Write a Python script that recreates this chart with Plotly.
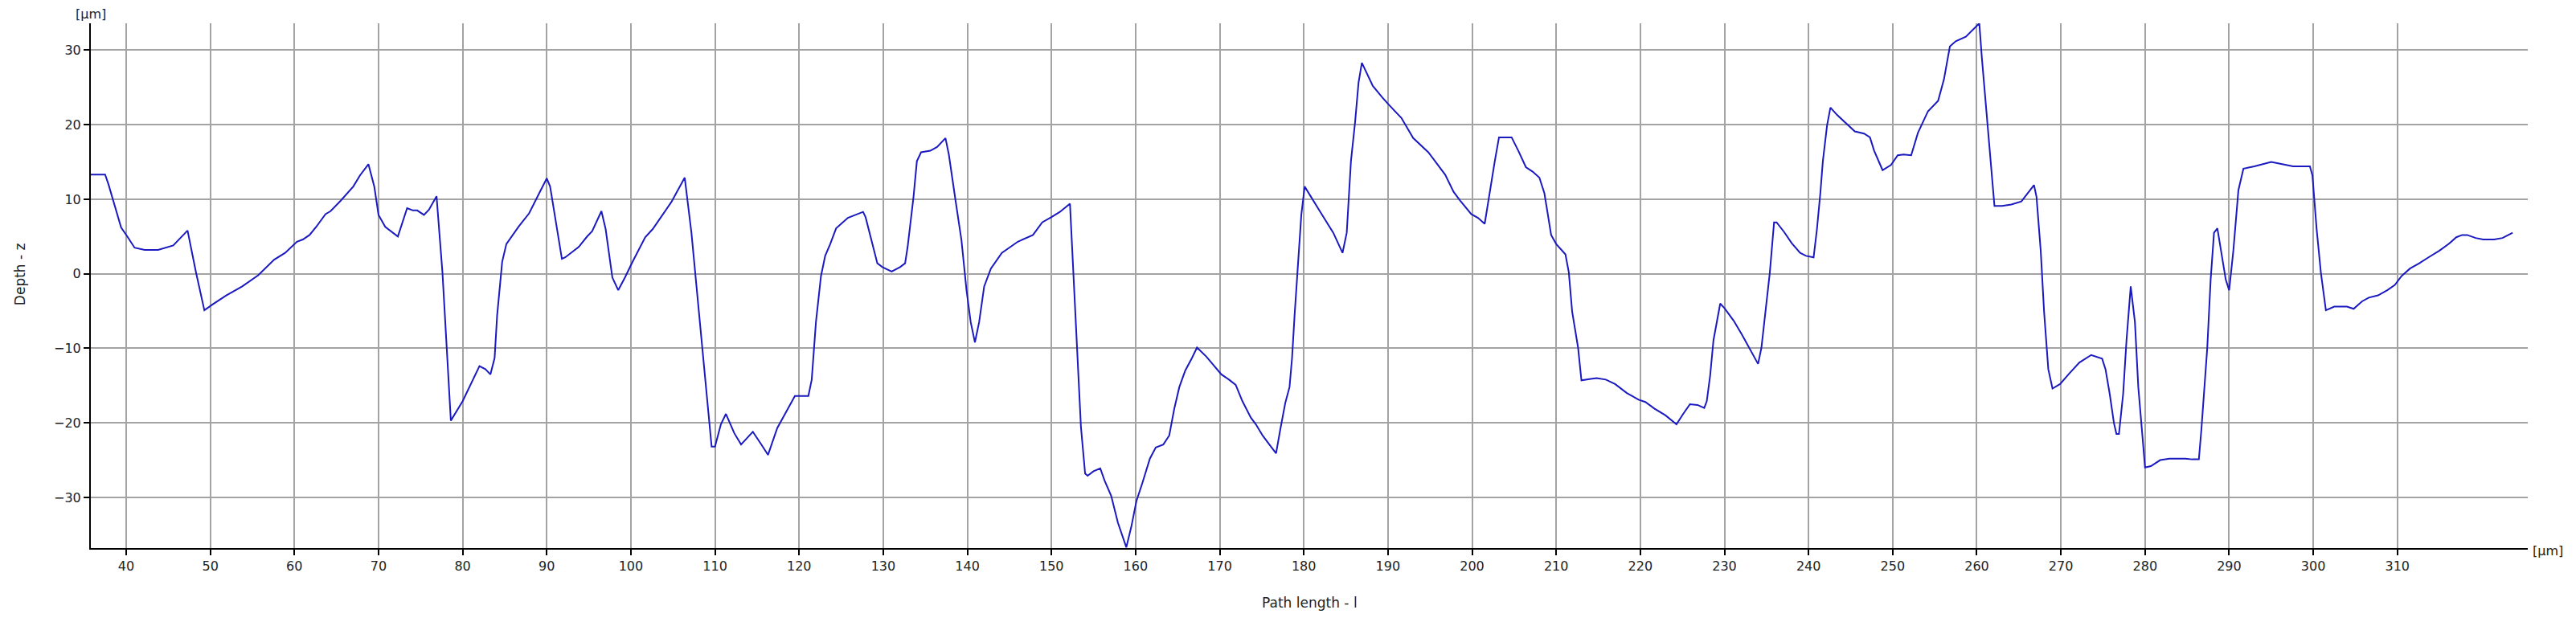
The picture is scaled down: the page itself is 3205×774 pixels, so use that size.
"""
Surface profile plot: depth z along the path length l
"""

import plotly.graph_objects as go

# Path length l [um]
path_length = [
    35.8, 37.5, 37.9, 38.6, 39.4, 40.2, 41.0, 42.2, 43.8, 45.6, 47.3, 48.3, 49.3,
    50.3, 51.9, 53.8, 55.7, 57.6, 58.9, 60.3, 61.0, 61.8, 62.6, 63.7, 64.3, 65.5,
    67.0, 67.8, 68.8, 69.5, 70.0, 70.8, 72.3, 73.4, 74.1, 74.6, 75.4, 76.0, 76.9,
    77.6, 78.1, 78.6, 80.0, 80.9, 82.0, 82.7, 83.3, 83.8, 84.1, 84.7, 85.2, 86.7,
    87.9, 89.1, 90.0, 90.4, 91.1, 91.8, 92.2, 93.2, 93.8, 94.8, 95.4, 96.5, 97.0,
    97.8, 98.5, 99.3, 100.2, 101.7, 102.6, 104.8, 106.4, 107.2, 107.8, 108.5,
    109.3, 109.6, 110.0, 110.7, 111.3, 112.3, 113.1, 114.5, 115.5, 116.3, 117.4,
    118.7, 119.5, 120.3, 121.1, 121.5, 122.0, 122.6, 123.1, 123.7, 124.4, 125.0,
    125.8, 126.7, 127.6, 127.9, 128.5, 129.3, 129.9, 131.0, 132.0, 132.6, 132.9,
    133.6, 134.0, 134.5, 135.6, 136.4, 137.4, 137.8, 138.6, 139.3, 139.9, 140.4,
    140.9, 141.4, 142.0, 142.8, 144.1, 145.1, 146.0, 147.8, 148.9, 150.0, 151.0,
    152.2, 153.0, 153.5, 154.0, 154.3, 155.0, 155.8, 156.3, 157.1, 157.9, 158.9,
    159.5, 160.1, 160.8, 161.7, 162.4, 163.3, 164.0, 164.6, 165.2, 165.9, 166.7,
    167.3, 168.4, 169.3, 170.2, 171.1, 171.9, 172.7, 173.7, 174.3, 175.1, 175.9,
    176.7, 177.2, 177.8, 178.3, 178.6, 178.9, 179.4, 179.7, 180.1, 181.0, 181.9,
    183.5, 184.6, 185.1, 185.6, 186.1, 186.5, 186.9, 187.4, 188.2, 189.3, 190.0,
    191.6, 192.1, 193.0, 194.8, 195.9, 196.8, 197.8, 198.6, 199.9, 200.7, 201.5,
    202.2, 202.7, 203.2, 204.7, 205.5, 206.4, 207.2, 208.0, 208.6, 209.4, 210.0,
    211.1, 211.5, 211.9, 212.6, 213.0, 214.1, 214.8, 215.9, 217.0, 218.4, 219.8,
    220.6, 221.7, 223.0, 224.3, 225.1, 225.9, 226.8, 227.6, 227.9, 228.3, 228.7,
    229.5, 230.0, 231.1, 232.1, 233.0, 234.0, 234.4, 234.9, 235.4, 235.9, 236.2,
    237.1, 238.0, 239.0, 239.7, 240.6, 241.0, 241.4, 241.7, 242.2, 242.6, 243.4,
    244.5, 245.5, 246.6, 247.3, 247.8, 248.8, 249.8, 250.6, 251.3, 252.2, 253.0,
    254.2, 255.4, 256.1, 256.8, 257.5, 258.7, 260.3, 260.6, 261.3, 261.7, 262.1,
    263.0, 264.1, 265.3, 266.8, 267.1, 267.6, 268.0, 268.5, 269.0, 269.9, 270.9,
    272.2, 273.6, 274.9, 275.3, 275.8, 276.3, 276.6, 276.9, 277.4, 277.8, 278.3,
    278.8, 279.2, 279.7, 280.0, 280.7, 281.8, 282.9, 284.8, 285.6, 286.4, 286.7,
    287.4, 287.8, 288.2, 288.6, 289.1, 289.6, 290.0, 290.5, 291.1, 291.7, 293.0,
    294.1, 295.0, 296.3, 297.6, 299.6, 299.9, 300.4, 300.9, 301.5, 302.5, 304.0,
    304.8, 305.8, 306.6, 307.7, 308.8, 309.7, 310.5, 311.5, 312.6, 313.7, 315.0,
    316.1, 317.0, 317.7, 318.3, 319.3, 320.2, 321.5, 322.5, 323.7,
]

# Depth z [um]
depth = [
    13.3, 13.3, 12.0, 9.3, 6.2, 4.9, 3.5, 3.2, 3.2, 3.8, 5.8, 0.2, -4.9,
    -4.1, -2.9, -1.7, -0.2, 1.9, 2.8, 4.3, 4.6, 5.2, 6.3, 8.0, 8.4, 9.8,
    11.7, 13.2, 14.7, 11.7, 7.9, 6.3, 5.0, 8.8, 8.5, 8.5, 7.9, 8.6, 10.4,
    0.2, -10.4, -19.7, -17.1, -14.9, -12.4, -12.8, -13.5, -11.3, -5.6, 1.6, 4.0, 6.4,
    8.1, 10.8, 12.8, 11.7, 6.9, 2.0, 2.2, 3.1, 3.6, 5.0, 5.7, 8.4, 6.0,
    -0.5, -2.2, -0.5, 1.6, 4.9, 6.0, 9.6, 12.9, 5.5, -1.7, -9.9,
    -20.0, -23.2, -23.2, -20.2, -18.8, -21.4, -22.9, -21.2, -22.9, -24.3, -20.7,
    -18.1, -16.4, -16.4, -16.4, -14.2, -6.5, -0.3, 2.4, 4.0, 6.1, 6.7,
    7.5, 7.9, 8.3, 7.6, 4.8, 1.4, 0.9, 0.3, 0.9, 1.4, 3.6,
    10.3, 15.1, 16.3, 16.5, 17.0, 18.2, 16.0, 9.8, 4.5, -2.2, -6.5,
    -9.2, -6.5, -1.7, 0.7, 2.8, 3.6, 4.3, 5.2, 6.9, 7.6, 8.3,
    9.4, -8.9, -20.5, -26.8, -27.1, -26.5, -26.1, -27.7, -29.8, -33.4, -36.7,
    -33.9, -30.5, -28.1, -24.8, -23.3, -22.9, -21.7, -18.1, -15.2, -13.0, -11.3,
    -9.9, -11.1, -12.3, -13.5, -14.2, -14.9, -17.1, -19.3, -20.2, -21.7, -22.9,
    -24.1, -20.9, -17.3, -15.2, -11.3, -5.6, 3.1, 7.9, 11.7, 10.0, 8.4,
    5.5, 2.8, 5.5, 15.1, 20.4, 25.6, 28.3, 27.1, 25.2, 23.7, 22.8,
    20.9, 19.9, 18.2, 16.3, 14.6, 13.3, 11.0, 9.8, 8.0, 7.5, 6.7,
    11.7, 15.1, 18.3, 18.3, 16.5, 14.3, 13.7, 12.9, 10.8, 5.2, 4.0,
    2.6, 0.2, -5.1, -9.9, -14.3, -14.1, -14.0, -14.2, -14.8, -16.0, -16.9,
    -17.2, -18.1, -19.0, -20.2, -18.8, -17.5, -17.6, -18.0, -17.1, -13.7, -8.9,
    -4.0, -4.6, -6.3, -8.2, -10.1, -12.1, -9.9, -5.1, 0.2, 6.9, 6.9,
    5.6, 4.1, 2.8, 2.4, 2.2, 6.0, 10.8, 15.1, 19.9, 22.3, 21.3,
    20.1, 19.1, 18.8, 18.3, 16.5, 13.9, 14.6, 15.9, 16.0, 15.9, 18.9,
    21.8, 23.2, 26.1, 30.5, 31.2, 31.8, 33.6, 29.0, 19.9, 14.1, 9.1,
    9.1, 9.3, 9.7, 11.9, 10.3, 3.1, -5.1, -12.8, -15.4, -14.8, -13.5,
    -11.9, -10.9, -11.4, -12.8, -16.1, -20.0, -21.5, -21.5, -16.1, -8.9, -1.7,
    -6.5, -15.2, -21.9, -26.0, -25.8, -25.0, -24.8, -24.8, -24.9, -24.9, -20.9,
    -9.9, -0.8, 5.5, 6.1, 2.6, -0.8, -2.2, 3.1, 11.2, 14.1, 14.4,
    14.7, 15.0, 14.7, 14.4, 14.4, 13.2, 6.0, 0.2, -4.9, -4.4, -4.4,
    -4.7, -3.7, -3.2, -2.9, -2.2, -1.5, -0.3, 0.7, 1.4, 2.2, 3.1,
    4.0, 4.9, 5.2, 5.2, 4.8, 4.6, 4.6, 4.8, 5.5,
]

x_ticks = list(range(40, 311, 10))
y_ticks = [-30, -20, -10, 0, 10, 20, 30]

FONT = "DejaVu Sans"
GRID = "#a3a3a3"

fig = go.Figure()

fig.add_trace(go.Scatter(
    x=path_length,
    y=depth,
    mode="lines",
    line=dict(color="#1a1ac0", width=2),
    hoverinfo="x+y",
    showlegend=False,
))

axis_common = dict(
    showgrid=True,
    gridcolor=GRID,
    gridwidth=2,
    showline=True,
    linecolor="black",
    linewidth=2,
    ticks="outside",
    ticklen=7,
    tickwidth=1.5,
    tickcolor="black",
    zeroline=False,
    tickfont=dict(family=FONT, size=16, color="#222"),
    mirror=False,
)

# the page body keeps its default 8px margin, so the margins are offset by it
fig.update_layout(
    width=3205,
    height=774,
    margin=dict(l=105, r=68, t=21, b=100),
    paper_bgcolor="white",
    plot_bgcolor="white",
    xaxis=dict(range=[35.8, 325.5], tickvals=x_ticks, **axis_common),
    yaxis=dict(range=[-36.8, 33.6], tickvals=y_ticks, **axis_common),
    font=dict(family=FONT, size=16, color="#222"),
)

# unit labels and axis names
fig.add_annotation(text="[µm]", xref="paper", yref="paper", x=0, y=1,
                   xanchor="center", yanchor="bottom",
                   showarrow=False, font=dict(size=16))
fig.add_annotation(text="[µm]", xref="paper", yref="paper", x=1, y=0,
                   xanchor="left", yanchor="middle", xshift=4, yshift=-3,
                   showarrow=False, font=dict(size=16))
fig.add_annotation(text="Path length - l", xref="paper", yref="paper",
                   x=0.5, y=0, yanchor="middle", yshift=-68,
                   showarrow=False, font=dict(size=17))
fig.add_annotation(text="Depth - z", xref="paper", yref="paper",
                   x=0, y=0.522, xanchor="center", yanchor="middle", xshift=-88,
                   textangle=-90, showarrow=False, font=dict(size=17))

fig.write_html("out.html")
